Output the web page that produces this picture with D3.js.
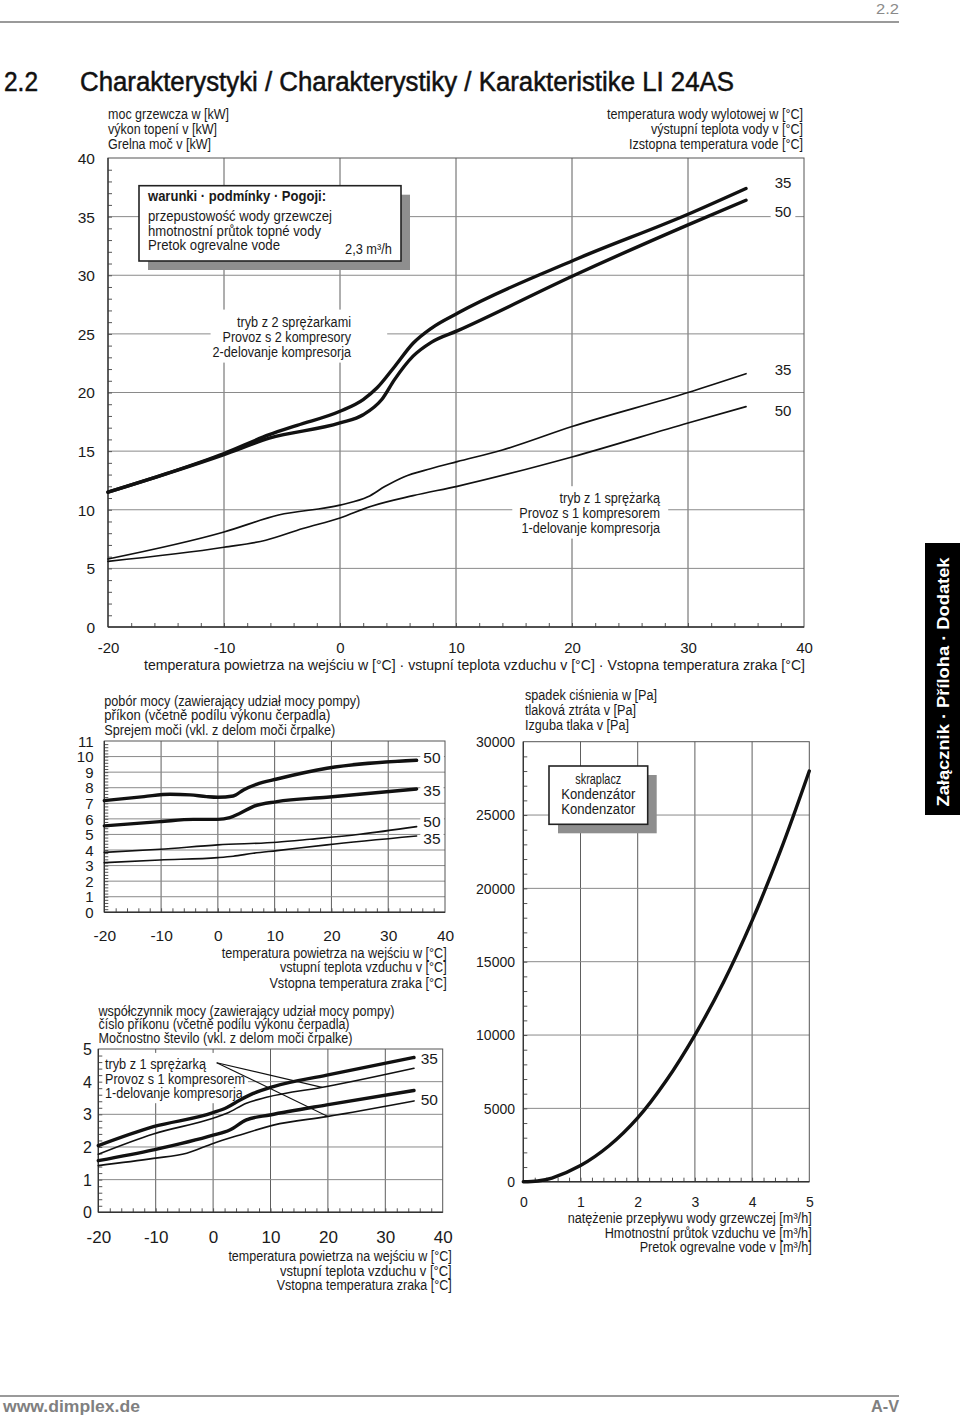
<!DOCTYPE html>
<html><head><meta charset="utf-8">
<script src="https://cdn.jsdelivr.net/npm/d3@7"></script>
<style>
body{margin:0;background:#fff}
svg{display:block}
text{font-family:"Liberation Sans",Arial,Helvetica,sans-serif}
</style></head>
<body>
<script>
// ---------------- DATA ----------------
// Main chart: heating capacity [kW] vs air inlet temperature [°C]
const mainXTicks = [-20,-10,0,10,20,30,40];
const mainYTicks = [0,5,10,15,20,25,30,35,40];
const heat2c35T = [-20,-14.9,-10,-6.1,-3.7,0,2.0,3.2,4.7,6.3,7.9,10.2,20.2,30,35];
const heat2c35V = [11.5,13.1,14.8,16.4,17.2,18.4,19.4,20.4,22.2,24.2,25.5,26.8,31.3,35.2,37.4];
const heat2c50T = [-20,-10,-6.1,0,2.0,3.6,4.7,6.3,7.9,10.2,20.2,30,35];
const heat2c50V = [11.5,14.7,16.1,17.4,18.1,19.4,21.1,23.1,24.3,25.3,30.0,34.3,36.4];
const heat1c35T = [-20,-10,-5.3,0,2.4,3.9,5.5,7.8,10.1,14.0,20,30,35];
const heat1c35V = [5.8,8.1,9.55,10.4,11.1,12.0,12.8,13.5,14.1,15.1,17.1,20.0,21.6];
const heat1c50T = [-20,-10,-6.4,-3.2,0,2.7,6.3,10.1,20,30,35];
const heat1c50V = [5.6,6.8,7.4,8.4,9.3,10.3,11.2,12.0,14.5,17.4,18.8];

// Power input [kW]
const powXTicks = [-20,-10,0,10,20,30,40];
const powYTicks = [0,1,2,3,4,5,6,7,8,9,10,11];
const pow2c50T = [-20,-13,-8.4,-4.9,-2,0,2.7,4.5,6.8,10.4,19.2,35];
const pow2c50V = [7.17,7.43,7.58,7.54,7.43,7.39,7.47,7.86,8.22,8.56,9.25,9.76];
const pow2c35T = [-20,-10.2,-4.3,0,2.1,3.9,6.2,10.4,19.2,35];
const pow2c35V = [5.55,5.82,5.97,5.97,6.08,6.36,6.79,7.11,7.39,7.92];
const pow1c50T = [-20,-10.2,0,10.4,16.2,25,35];
const pow1c50V = [3.85,4.05,4.33,4.5,4.69,5.01,5.5];
const pow1c35T = [-20,-10.2,0,2.7,6.2,10.4,19.2,35];
const pow1c35V = [3.19,3.36,3.51,3.6,3.79,3.96,4.33,4.9];

// Coefficient of performance
const copXTicks = [-20,-10,0,10,20,30,40];
const copYTicks = [0,1,2,3,4,5];
const cop2c35T = [-20,-10.4,0,2.4,4.7,7,10.5,19.8,35];
const cop2c35V = [2.04,2.62,3.05,3.21,3.44,3.64,3.85,4.2,4.74];
const cop1c35T = [-20,-10.4,0,2.4,5.8,9.3,19.8,35];
const cop1c35V = [1.78,2.4,2.88,3.03,3.34,3.52,3.85,4.41];
const cop2c50T = [-20,-10.4,0,2.9,5.8,9.9,19.8,35];
const cop2c50V = [1.58,1.91,2.36,2.52,2.83,2.98,3.29,3.73];
const cop1c50T = [-20,-10.4,-4.6,0,4.7,10.5,19.8,35];
const cop1c50V = [1.43,1.65,1.81,2.11,2.37,2.67,2.93,3.41];
const copLeaderT = [19,20];

// Pressure drop of condenser [Pa] vs flow [m³/h]
const flowTicks = [0,1,2,3,4,5];
const dropTicks = [0,5000,10000,15000,20000,25000,30000];
const flowQ  = [0,0.25,0.5,1,1.5,2,2.5,3,3.5,4,4.5,5];
const dropPa = [0,50,250,1100,2450,4350,6900,10000,13600,17800,22600,28000];

// ---------------- DRAWING ----------------
const W=960,H=1418;
const svg=d3.select("body").append("svg").attr("width",W).attr("height",H);
svg.append("rect").attr("width",W).attr("height",H).attr("fill","#fff");
const INK="#1a1a1a";

function txt(p,x,y,s,o={}){
  const t=p.append("text").attr("x",x).attr("y",y).attr("dy","0.35em")
    .attr("text-anchor",o.anchor||"start")
    .style("font-size",(o.size||14)+"px")
    .style("font-weight",o.bold?"bold":"normal")
    .style("fill",o.fill||INK).text(s);
  const nat=t.node().getComputedTextLength();
  const w=o.w||(o.k?nat*o.k:null);
  if(w) t.attr("textLength",w).attr("lengthAdjust","spacingAndGlyphs");
  return t;
}

function chart(o){
  const g=svg.append("g");
  const x=d3.scaleLinear().domain(o.xd).range([o.l,o.r]);
  const y=d3.scaleLinear().domain(o.yd).range([o.b,o.t]);
  const L={grid:g.append("g"),bg:g.append("g"),axis:g.append("g"),lines:g.append("g"),text:g.append("g")};
  L.grid.selectAll("line.v").data(o.xGrid).join("line").attr("class","v")
    .attr("x1",d=>x(d)).attr("x2",d=>x(d)).attr("y1",o.t).attr("y2",o.b)
    .attr("stroke","#5e5e5e").attr("stroke-width",1);
  L.grid.selectAll("line.h").data(o.yGrid).join("line").attr("class","h")
    .attr("x1",o.l).attr("x2",o.r).attr("y1",d=>y(d)).attr("y2",d=>y(d))
    .attr("stroke","#8a8a8a").attr("stroke-width",1);
  const bm=L.axis.append("g").attr("transform",`translate(0,${o.b})`)
    .call(d3.axisBottom(x).tickValues(o.xMinor).tickSize(-4).tickFormat(""));
  bm.select(".domain").remove(); bm.selectAll("line").attr("stroke","#555");
  const lm=L.axis.append("g").attr("transform",`translate(${o.l},0)`)
    .call(d3.axisLeft(y).tickValues(o.yMinor).tickSize(-4).tickFormat(""));
  lm.select(".domain").remove(); lm.selectAll("line").attr("stroke","#555");
  L.axis.append("rect").attr("x",o.l).attr("y",o.t).attr("width",o.r-o.l).attr("height",o.b-o.t)
    .attr("fill","none").attr("stroke","#555").attr("stroke-width",1);
  L.axis.append("line").attr("x1",o.l).attr("x2",o.r).attr("y1",o.b).attr("y2",o.b).attr("stroke","#333").attr("stroke-width",1.5);
  L.axis.append("line").attr("x1",o.l).attr("x2",o.l).attr("y1",o.t).attr("y2",o.b).attr("stroke","#333").attr("stroke-width",1.3);
  const xa=L.axis.append("g").attr("transform",`translate(0,${o.b})`)
    .call(d3.axisBottom(x).tickValues(o.xTicks).tickSize(0).tickFormat(d=>String(d)));
  xa.select(".domain").remove();
  xa.selectAll("text").attr("y",o.xLabY-o.b).attr("dy","0.35em")
    .style("font-size",o.xSize+"px").style("font-family",'"Liberation Sans",Arial,sans-serif').style("fill",INK);
  const ya=L.axis.append("g").attr("transform",`translate(${o.l},0)`)
    .call(d3.axisLeft(y).tickValues(o.yTicks).tickSize(0).tickFormat(d=>String(d)));
  ya.select(".domain").remove();
  ya.selectAll("text").attr("x",o.yLabR-o.l).attr("dy","0.35em")
    .style("font-size",o.ySize+"px").style("font-family",'"Liberation Sans",Arial,sans-serif').style("fill",INK);
  return {x,y,L,o};
}

function series(C,T,V,w){
  C.L.lines.append("path")
    .attr("d",d3.line().x(d=>C.x(d[0])).y(d=>C.y(d[1])).curve(d3.curveMonotoneX)(d3.zip(T,V)))
    .attr("fill","none").attr("stroke","#111").attr("stroke-width",w)
    .attr("stroke-linecap","round").attr("stroke-linejoin","round");
}

function bgFor(C,sels,pad){
  let x0=1e9,y0=1e9,x1=-1e9,y1=-1e9;
  sels.forEach(s=>{const b=s.node().getBBox();x0=Math.min(x0,b.x);y0=Math.min(y0,b.y);x1=Math.max(x1,b.x+b.width);y1=Math.max(y1,b.y+b.height);});
  C.L.bg.append("rect").attr("x",x0-pad[0]).attr("y",y0-pad[1])
    .attr("width",x1-x0+pad[0]+pad[2]).attr("height",y1-y0+pad[1]+pad[3]).attr("fill","#fff");
}

function shadowBox(p,x,y,w,h,off){
  p.append("rect").attr("x",x+off).attr("y",y+off).attr("width",w).attr("height",h).attr("fill","#8e8e8e");
  p.append("rect").attr("x",x).attr("y",y).attr("width",w).attr("height",h).attr("fill","#fff").attr("stroke","#222").attr("stroke-width",1.6);
}

// ---- header / footer / tab
svg.append("line").attr("x1",0).attr("x2",899).attr("y1",22).attr("y2",22).attr("stroke","#9a9a9a").attr("stroke-width",2);
txt(svg,899,9,"2.2",{size:15,anchor:"end",fill:"#8a8a8a",w:23});
txt(svg,4,82,"2.2",{size:27,w:34,fill:"#111"}).style("stroke","#111").style("stroke-width",0.5);
txt(svg,80,82,"Charakterystyki / Charakterystiky / Karakteristike LI 24AS",{size:27,w:654,fill:"#111"}).style("stroke","#111").style("stroke-width",0.5);
svg.append("line").attr("x1",0).attr("x2",899).attr("y1",1396).attr("y2",1396).attr("stroke","#9a9a9a").attr("stroke-width",2);
txt(svg,3,1406,"www.dimplex.de",{size:16,bold:true,fill:"#808080",w:137});
txt(svg,899,1406,"A-V",{size:16,bold:true,fill:"#808080",anchor:"end",w:28});
svg.append("rect").attr("x",925).attr("y",543).attr("width",35).attr("height",272).attr("fill","#000");
txt(svg.append("g").attr("transform","translate(943,682) rotate(-90)"),0,0,"Załącznik · Příloha · Dodatek",{size:16,bold:true,fill:"#fff",anchor:"middle",w:249});

// ---- main chart
const M=chart({l:108,r:804,t:158,b:627,xd:[-20,40],yd:[0,40],
  xGrid:[-10,0,10,20,30],yGrid:[5,10,15,20,25,30,35],
  xMinor:d3.range(-18,40,2),yMinor:d3.range(1,40,1),
  xTicks:mainXTicks,yTicks:mainYTicks,xLabY:648,yLabR:95,xSize:15,ySize:15.5});
series(M,heat2c35T,heat2c35V,3.4);
series(M,heat2c50T,heat2c50V,3.4);
series(M,heat1c35T,heat1c35V,1.7);
series(M,heat1c50T,heat1c50V,1.7);
txt(M.L.text,108,114,"moc grzewcza w [kW]",{w:121});
txt(M.L.text,108,129.3,"výkon topení v [kW]",{w:109});
txt(M.L.text,108,144,"Grelna moč v [kW]",{w:103});
txt(M.L.text,803,114,"temperatura wody wylotowej w [°C]",{anchor:"end",w:196});
txt(M.L.text,803,129.3,"výstupní teplota vody v [°C]",{anchor:"end",w:152});
txt(M.L.text,803,144,"Izstopna temperatura vode [°C]",{anchor:"end",w:174});
txt(M.L.text,805,665,"temperatura powietrza na wejściu w [°C] · vstupní teplota vzduchu v [°C] · Vstopna temperatura zraka [°C]",{anchor:"end",w:661});
shadowBox(M.L.text,139,185.7,262,75.3,9);
txt(M.L.text,148,196,"warunki · podmínky · Pogoji:",{bold:true,w:178});
txt(M.L.text,148,216,"przepustowość wody grzewczej",{w:184});
txt(M.L.text,148,231.3,"hmotnostní průtok topné vody",{w:173});
txt(M.L.text,148,245.3,"Pretok ogrevalne vode",{w:132});
txt(M.L.text,392,249,"2,3 m³/h",{anchor:"end",w:47});
const t2=[txt(M.L.text,351,321.7,"tryb z 2 sprężarkami",{anchor:"end",w:114}),
  txt(M.L.text,351,336.7,"Provoz s 2 kompresory",{anchor:"end",w:128.5}),
  txt(M.L.text,351,351.7,"2-delovanje kompresorja",{anchor:"end",w:138.4})];
bgFor(M,t2,[2,4,36,3]);
const t1=[txt(M.L.text,660,498.3,"tryb z 1 sprężarką",{anchor:"end",w:100.5}),
  txt(M.L.text,660,512.7,"Provoz s 1 kompresorem",{anchor:"end",w:140.7}),
  txt(M.L.text,660,527.7,"1-delovanje kompresorja",{anchor:"end",w:138.4})];
bgFor(M,t1,[7,4,8,3]);
[["35",183],["50",211.4],["35",369.3],["50",410.7]].forEach(([s,yy])=>{
  const t=txt(M.L.text,783,yy,s,{size:15,anchor:"middle"}); bgFor(M,[t],[4,2,4,2]);
});

// ---- power input chart
const P=chart({l:104.3,r:445,t:741,b:912.3,xd:[-20,40],yd:[0,11],
  xGrid:[-10,0,10,20,30],yGrid:[1,2,3,4,5,6,7,8,9,10],
  xMinor:d3.range(-18,40,2),yMinor:d3.range(0.2,11,0.2),
  xTicks:powXTicks,yTicks:powYTicks,xLabY:935.3,yLabR:93.5,xSize:15.5,ySize:15});
series(P,pow2c50T,pow2c50V,3.4);
series(P,pow2c35T,pow2c35V,3.4);
series(P,pow1c50T,pow1c50V,1.6);
series(P,pow1c35T,pow1c35V,1.6);
txt(P.L.text,104.3,700.7,"pobór mocy (zawierający udział mocy pompy)",{w:256});
txt(P.L.text,104.3,714.7,"příkon (včetně  podílu výkonu čerpadla)",{w:226});
txt(P.L.text,104.3,730,"Sprejem moči (vkl. z delom moči črpalke)",{w:231});
txt(P.L.text,446.7,952.7,"temperatura powietrza na wejściu w [°C]",{anchor:"end",w:225});
txt(P.L.text,446.7,966.7,"vstupní teplota vzduchu v [°C]",{anchor:"end",w:166.7});
txt(P.L.text,446.7,982.7,"Vstopna temperatura zraka [°C]",{anchor:"end",w:177.3});
[["50",757.3],["35",791],["50",822],["35",838.7]].forEach(([s,yy])=>{
  const t=txt(P.L.text,423.3,yy,s,{size:15.5}); bgFor(P,[t],[3,1,3,1]);
});

// ---- COP chart
const C=chart({l:98.3,r:442.7,t:1049,b:1212.3,xd:[-20,40],yd:[0,5],
  xGrid:[-10,0,10,20,30],yGrid:[1,2,3,4],
  xMinor:d3.range(-18,40,2),yMinor:d3.range(0.2,5,0.2),
  xTicks:copXTicks,yTicks:copYTicks,xLabY:1236.7,yLabR:92,xSize:17,ySize:16});
series(C,cop2c35T,cop2c35V,3.4);
series(C,cop1c35T,cop1c35V,1.6);
series(C,cop2c50T,cop2c50V,3.4);
series(C,cop1c50T,cop1c50V,1.6);
txt(C.L.text,98.5,1010.7,"współczynnik mocy (zawierający udział mocy pompy)",{w:296});
txt(C.L.text,98.5,1024,"číslo příkonu (včetně  podílu výkonu čerpadla)",{w:251});
txt(C.L.text,98.5,1038.3,"Močnostno število (vkl. z delom moči črpalke)",{w:254});
txt(C.L.text,451.7,1256,"temperatura powietrza na wejściu w [°C]",{anchor:"end",w:223.3});
txt(C.L.text,451.7,1270.7,"vstupní teplota vzduchu v [°C]",{anchor:"end",w:171.7});
txt(C.L.text,451.7,1285,"Vstopna temperatura zraka [°C]",{anchor:"end",w:175});
const ta=[txt(C.L.text,105,1064,"tryb z 1 sprężarką",{w:101}),
  txt(C.L.text,105,1079.3,"Provoz s 1 kompresorem",{w:140}),
  txt(C.L.text,105,1093.3,"1-delovanje kompresorja",{w:137.7})];
bgFor(C,ta,[6,3,3,2]);
const lead0=[216.7,1062.7];
const leadTargets=[[copLeaderT[0],d3.scaleLinear().domain(cop1c35T).range(cop1c35V)(copLeaderT[0])],
                   [copLeaderT[1],d3.scaleLinear().domain(cop1c50T).range(cop1c50V)(copLeaderT[1])]];
leadTargets.forEach(([tt,vv])=>{
  C.L.lines.append("line").attr("x1",lead0[0]).attr("y1",lead0[1]).attr("x2",C.x(tt)).attr("y2",C.y(vv))
    .attr("stroke","#111").attr("stroke-width",1.1);
});
[["35",1059],["50",1099.3]].forEach(([s,yy])=>{
  const t=txt(C.L.text,420.7,yy,s,{size:15.5}); bgFor(C,[t],[3,1,3,1]);
});

// ---- pressure drop chart
const D=chart({l:523.3,r:809.3,t:741.7,b:1181.7,xd:[0,5],yd:[0,30000],
  xGrid:[1,2,3,4],yGrid:[5000,10000,15000,20000,25000],
  xMinor:d3.range(0.2,5,0.2),yMinor:d3.range(1000,30000,1000),
  xTicks:flowTicks,yTicks:dropTicks,xLabY:1201.7,yLabR:515,xSize:14,ySize:14});
D.L.lines.append("path")
  .attr("d",d3.line().x(d=>D.x(d[0])).y(d=>D.y(d[1])).curve(d3.curveCatmullRom.alpha(0.5))(d3.zip(flowQ,dropPa)))
  .attr("fill","none").attr("stroke","#111").attr("stroke-width",3.4).attr("stroke-linecap","round");
txt(D.L.text,525,695,"spadek ciśnienia w [Pa]",{w:132});
txt(D.L.text,525,710,"tlaková ztráta v [Pa]",{w:111});
txt(D.L.text,525,725,"Izguba tlaka v [Pa]",{w:104});
txt(D.L.text,811.7,1218.3,"natężenie przepływu wody grzewczej [m³/h]",{anchor:"end",w:244});
txt(D.L.text,811.7,1232.7,"Hmotnostní průtok vzduchu ve [m³/h]",{anchor:"end",w:207});
txt(D.L.text,811.7,1246.7,"Pretok ogrevalne vode v [m³/h]",{anchor:"end",w:172});
shadowBox(D.L.text,549,766,98.7,58.3,9);
txt(D.L.text,598.3,779.3,"skraplacz",{anchor:"middle",w:46});
txt(D.L.text,598.3,794.3,"Kondenzátor",{anchor:"middle",w:74.3});
txt(D.L.text,598.3,809.3,"Kondenzator",{anchor:"middle",w:74.3});
</script>
</body></html>
